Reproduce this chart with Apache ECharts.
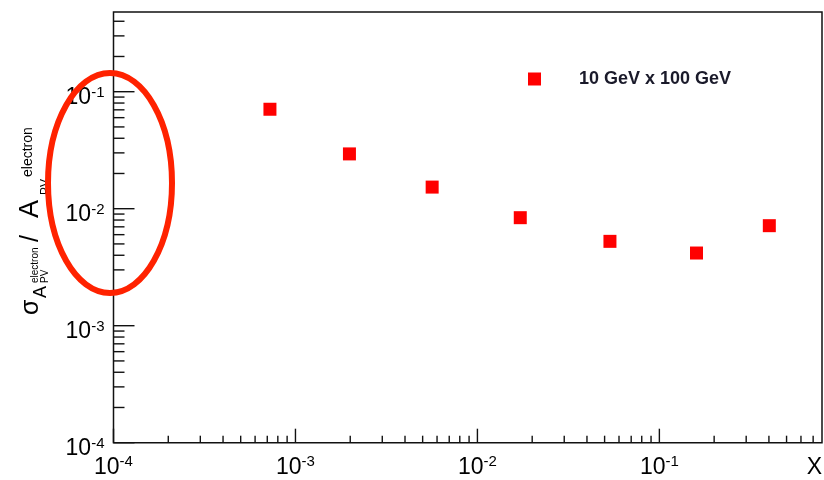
<!DOCTYPE html>
<html><head><meta charset="utf-8">
<script src="https://cdn.jsdelivr.net/npm/echarts@6/dist/echarts.min.js"></script>
<style>html,body{margin:0;padding:0;background:#fff}#c{width:824px;height:480px}</style>
</head><body><div id="c"></div>
<script>
// ---- data ----
const seriesName = '10 GeV x 100 GeV';
const xValues = [7.24e-4, 1.98e-3, 5.64e-3, 1.72e-2, 5.35e-2, 0.160, 0.402];
const yValues = [0.0708, 0.0294, 0.0153, 0.00838, 0.00526, 0.00418, 0.00716];
const xRange = [1e-4, 0.783];
const yRange = [1e-4, 0.48];
const xDecades = [1e-4, 1e-3, 1e-2, 1e-1];
const yDecades = [1e-4, 1e-3, 1e-2, 1e-1];
const minorMultipliers = [2, 3, 4, 5, 6, 7, 8, 9];
const xTitle = 'X';

// ---- build ----
const F = '"Liberation Sans", Arial, Helvetica, sans-serif';
const points = xValues.map((x, i) => [x, yValues[i]]);

const tickData = [];
xDecades.forEach(d => {
  tickData.push([d, yRange[0], 14, 0]);
  minorMultipliers.forEach(m => { const v = d * m; if (v < xRange[1]) tickData.push([v, yRange[0], 7, 0]); });
});
yDecades.forEach(d => {
  tickData.push([xRange[0], d, 21, 1]);
  minorMultipliers.forEach(m => { const v = d * m; if (v < yRange[1]) tickData.push([xRange[0], v, 11, 1]); });
});

const labelRich = {
  b: { fontSize: 23, lineHeight: 25, fontFamily: F, color: '#000' },
  s: { fontSize: 15, lineHeight: 14, verticalAlign: 'top', fontFamily: F, color: '#000' }
};
function powLabel(v) {
  const e = Math.log10(v), r = Math.round(e);
  if (Math.abs(e - r) > 1e-6) return '';
  return '{b|10}{s|' + r + '}';
}

const titleLayout = [
  { t: 'σ', fs: 25, x: 0, base: 0 },
  { t: 'A', fs: 18, x: 17, base: 7 },
  { t: 'PV', fs: 10, x: 32, base: 9 },
  { t: 'electron', fs: 10, x: 32, base: -1 },
  { t: '/', fs: 25, x: 73, base: 0 },
  { t: 'A', fs: 27, x: 97, base: 0 },
  { t: 'PV', fs: 12, x: 120, base: 10 },
  { t: 'electron', fs: 14, x: 138, base: -7 }
];

const chart = echarts.init(document.getElementById('c'), null, { renderer: 'canvas' });
chart.setOption({
  animation: false,
  backgroundColor: '#fff',
  grid: { left: 113.5, top: 12, right: 2, bottom: 37.3, show: true, borderColor: '#111', borderWidth: 1.5,
          containLabel: false, outerBoundsMode: 'none' },
  legend: {
    data: [seriesName], left: 528, top: 70, padding: 0, selectedMode: false,
    icon: 'rect', itemWidth: 13, itemHeight: 13,
    itemStyle: { opacity: 1 },
    textStyle: { fontSize: 18, fontWeight: 'bold', fontFamily: F, color: '#1a1a2a', padding: [0, 0, 0, 33] }
  },
  xAxis: {
    type: 'log', logBase: 10, min: xRange[0], max: xRange[1],
    axisLine: { show: false }, axisTick: { show: false }, splitLine: { show: false }, minorTick: { show: false },
    axisLabel: { formatter: powLabel, rich: labelRich, margin: 12, showMinLabel: true, showMaxLabel: true },
    name: xTitle, nameLocation: 'end', nameGap: 0, nameMoveOverlap: false,
    nameTextStyle: { fontSize: 23, fontFamily: F, color: '#000', align: 'right', verticalAlign: 'top', padding: [13, 0, 0, 0] }
  },
  yAxis: {
    type: 'log', logBase: 10, min: yRange[0], max: yRange[1],
    axisLine: { show: false }, axisTick: { show: false }, splitLine: { show: false }, minorTick: { show: false },
    axisLabel: { formatter: powLabel, rich: labelRich, margin: 9, padding: [12, 0, 0, 0], showMinLabel: true, showMaxLabel: true }
  },
  series: [
    {
      type: 'custom', name: 'ticks', data: tickData, silent: true, z: 5, clip: false,
      renderItem: (params, api) => {
        const p = api.coord([api.value(0), api.value(1)]);
        const len = api.value(2), dir = api.value(3);
        const p2 = dir === 0 ? [p[0], p[1] - len] : [p[0] + len, p[1]];
        return { type: 'line', shape: { x1: p[0], y1: p[1], x2: p2[0], y2: p2[1] },
                 style: { stroke: '#111', lineWidth: 1.4 } };
      }
    },
    {
      type: 'scatter', name: seriesName, data: points, symbol: 'rect', symbolSize: 13,
      itemStyle: { color: '#ff0000', opacity: 1 }, emphasis: { disabled: true }, z: 6
    }
  ],
  graphic: [
    {
      type: 'group', x: 40, y: 315, rotation: Math.PI / 2,
      children: titleLayout.map(p => ({
        type: 'text', x: p.x, y: p.base - 0.35 * p.fs,
        style: { text: p.t, fontSize: p.fs, fontFamily: F, fill: '#000', align: 'left', verticalAlign: 'middle' }
      }))
    },
    {
      type: 'ellipse', z: 100, silent: true,
      shape: { cx: 110, cy: 183, rx: 62, ry: 110 },
      style: { fill: 'none', stroke: '#ff2200', lineWidth: 6 }
    }
  ]
});
</script></body></html>
